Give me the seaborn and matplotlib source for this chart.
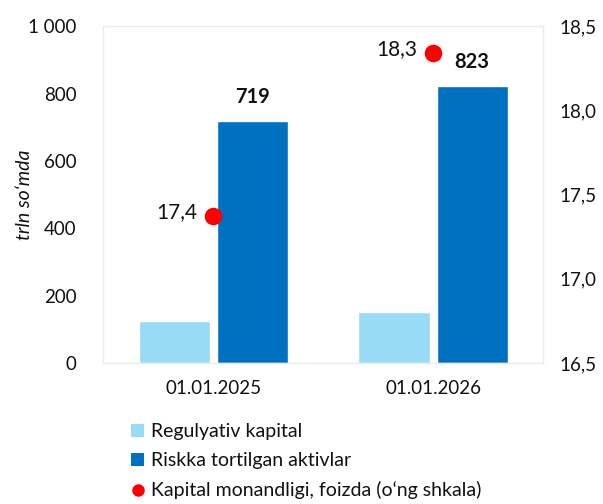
import matplotlib
matplotlib.use("Agg")
import matplotlib.pyplot as plt
import seaborn as sns
import pandas as pd
from matplotlib.lines import Line2D
from matplotlib.patches import Patch
from matplotlib.ticker import FuncFormatter

categories = ["01.01.2025", "01.01.2026"]
regulyativ = [125, 151]
riskka = [719, 823]
monandlik = [17.37, 18.34]
series_names = ["Regulyativ kapital", "Riskka tortilgan aktivlar",
                "Kapital monandligi, foizda (o‘ng shkala)"]
left_ticks = [0, 200, 400, 600, 800, 1000]
right_ticks = [16.5, 17.0, 17.5, 18.0, 18.5]

sns.set_theme(style="white")
plt.rcParams['font.family'] = ['Lato', 'DejaVu Sans']

light = "#97DBF6"
dark = "#0070C0"
red = "#FF0000"
txt = "#111111"

df = pd.DataFrame({
    "date": categories * 2,
    "value": regulyativ + riskka,
    "series": [series_names[0]] * 2 + [series_names[1]] * 2,
})

fig = plt.figure(figsize=(6.03, 5.04), dpi=100)
ax = fig.add_axes([0.171, 0.280, 0.7295, 0.668])

sns.barplot(data=df, x="date", y="value", hue="series", order=categories,
            hue_order=series_names[:2], palette=[light, dark],
            width=0.71, gap=0.09, ax=ax, legend=False, saturation=1)

ax.set_xlim(-0.5, 1.5)
ax.set_ylim(0, 1000)
ax.set_yticks(left_ticks)
ax.yaxis.set_major_formatter(FuncFormatter(lambda v, p: f"{int(v):,}".replace(",", " ")))
ax.set_xlabel("")
ax.set_ylabel("trln so‘mda", fontstyle="italic", fontsize=14, color=txt)
ax.yaxis.set_label_coords(-0.16, 0.5)
ax.tick_params(axis="both", length=0, labelsize=13.5, colors=txt)
ax.tick_params(axis="y", pad=19)
ax.tick_params(axis="x", pad=12)
for s in ax.spines.values():
    s.set_color("#EBEBEB")
    s.set_linewidth(1)

ax.bar_label(ax.containers[1], labels=[str(v) for v in riskka], padding=10,
             fontsize=14.5, fontweight="bold", color=txt)

ax2 = ax.twinx()
ax2.scatter([0, 1], monandlik, s=160, color=red, zorder=5, linewidths=0)
ax2.set_ylim(16.5, 18.5)
ax2.set_yticks(right_ticks)
ax2.yaxis.set_major_formatter(FuncFormatter(lambda v, p: f"{v:.1f}".replace(".", ",")))
ax2.tick_params(axis="y", length=0, labelsize=13.5, colors=txt, pad=12)
ax2.grid(False)
for s in ax2.spines.values():
    s.set_visible(False)
for i, v in enumerate(monandlik):
    ax2.annotate(f"{v:.1f}".replace(".", ","), (i, v), xytext=(-11, 3),
                 textcoords="offset points", ha="right", va="center",
                 fontsize=15, color=txt)

handles = [
    Patch(facecolor=light, edgecolor="none"),
    Patch(facecolor=dark, edgecolor="none"),
    Line2D([], [], marker="o", linestyle="none", color=red, markersize=9,
           markeredgewidth=0),
]
fig.legend(handles, series_names, loc="upper left", bbox_to_anchor=(0.218, 0.161),
           frameon=False, fontsize=14, handlelength=0.65, handleheight=0.65,
           handletextpad=0.35, labelspacing=0.63, borderaxespad=0, borderpad=0,
           labelcolor=txt)

fig.savefig("out.png", dpi=100)
